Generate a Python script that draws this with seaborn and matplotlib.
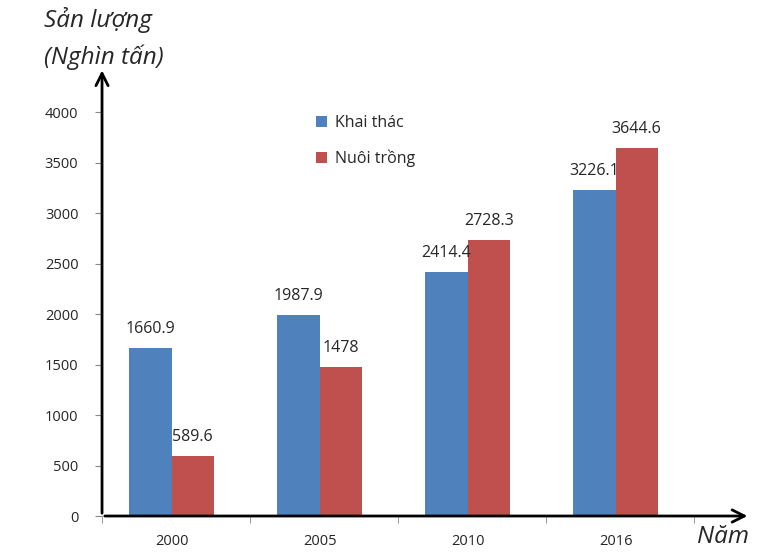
import pandas as pd
import matplotlib.pyplot as plt
import seaborn as sns

# data
years = ["2000", "2005", "2010", "2016"]
khai_thac = [1660.9, 1987.9, 2414.4, 3226.1]
nuoi_trong = [589.6, 1478, 2728.3, 3644.6]
series = ["Khai thác", "Nuôi trồng"]
yticks = [0, 500, 1000, 1500, 2000, 2500, 3000, 3500, 4000]

df = pd.DataFrame({
    "Năm": years * 2,
    "Sản lượng": khai_thac + nuoi_trong,
    "Loại": [series[0]] * len(years) + [series[1]] * len(years),
})

sns.set_style("white")
plt.rcParams['font.family'] = ['Open Sans', 'DejaVu Sans']

fig = plt.figure(figsize=(7.7, 5.59), dpi=100)
ax = fig.add_axes([0.1325, 0.0769, 0.7688, 0.7227])

sns.barplot(data=df, x="Năm", y="Sản lượng", hue="Loại",
            palette=["#4F81BD", "#C0504D"], saturation=1, width=0.57,
            linewidth=0, edgecolor="none", ax=ax)

for cont in ax.containers:
    ax.bar_label(cont, labels=[f"{v:g}" for v in cont.datavalues],
                 padding=8, fontsize=11.5)

ax.set_xlim(-0.47, 3.53)
ax.set_ylim(0, 4000)
ax.set_yticks(yticks)
ax.set_xlabel("")
ax.set_ylabel("")
ax.tick_params(axis="y", length=5, color="#888888", pad=12, labelsize=10.5, left=True)
ax.tick_params(axis="x", which="major", length=0, pad=13, labelsize=10.5)
ax.set_xticks([-0.47, 0.53, 1.53, 2.53, 3.53], minor=True)
ax.tick_params(axis="x", which="minor", length=5, color="#888888", bottom=True)

for s in ax.spines.values():
    s.set_visible(False)

# axis arrows
ax.annotate("", xy=(0, 1.11), xytext=(0, 0), xycoords="axes fraction",
            arrowprops=dict(arrowstyle="->", lw=2, color="black", mutation_scale=22))
ax.annotate("", xy=(1.095, 0), xytext=(0, 0), xycoords="axes fraction",
            arrowprops=dict(arrowstyle="->", lw=2, color="black", mutation_scale=22))

fig.text(0.057, 0.965, "Sản lượng", fontsize=17.5, style="italic", va="center")
fig.text(0.057, 0.898, "(Nghìn tấn)", fontsize=17.5, style="italic", va="center")
fig.text(0.905, 0.04, "Năm", fontsize=17.5, style="italic", va="center")

ax.legend(loc="upper left", bbox_to_anchor=(0.392, 0.82), bbox_transform=fig.transFigure,
          frameon=False, handlelength=0.7, handleheight=0.7, labelspacing=1.15,
          handletextpad=0.5, fontsize=11.5)

fig.savefig("out.png", dpi=100)
